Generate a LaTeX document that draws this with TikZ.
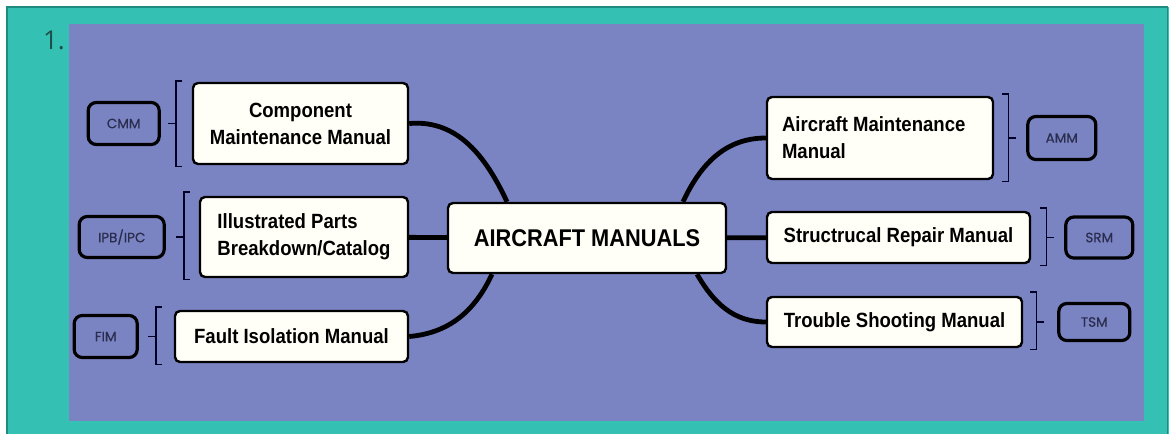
\documentclass[tikz,border=0pt]{standalone}
\usepackage{fontspec}
\setmainfont{Liberation Sans}[FakeStretch=0.9]
\newfontfamily\tagfont{Poppins}[FakeBold=0.6]
\newfontfamily\numfont{Open Sans}
\usetikzlibrary{positioning, calc}

\definecolor{frameteal}{HTML}{35C0B4}
\definecolor{frameedge}{HTML}{1F8A80}
\definecolor{boardblue}{HTML}{7B84C3}
\definecolor{tagink}{HTML}{2B2D4E}
\definecolor{numink}{HTML}{1F4F4A}

\begin{document}
\begin{tikzpicture}[
  x=1pt, y=1pt,
  box/.style  = {draw, fill=white!97!yellow, line width=2.4pt, rounded corners=5pt,
                 inner sep=0pt, font=\bfseries\fontsize{20.6}{27}\selectfont},
  tag/.style  = {draw, line width=3.2pt, rounded corners=8pt, inner sep=0pt,
                 font=\tagfont\fontsize{13.5}{15}\selectfont, text=tagink},
  brk/.style  = {line width=1.4pt, black!85!blue},
  link/.style = {line width=4.8pt},
]
  \useasboundingbox (0,0) rectangle (1169,-434);
  \fill[white] (0,0) rectangle (1169,-434);
  \fill[frameteal] (7,-7) rectangle (1169,-434);
  \draw[frameedge, line width=1.6pt] (7,-434) |- (1167.5,-7) -- (1167.5,-434);
  \fill[boardblue] (69,-24) rectangle (1144,-421);
  \node[font=\numfont\fontsize{26}{28}\selectfont, text=numink, inner sep=0pt,
        anchor=base east] (num) at (65,-49) {1.};

  % manuals
  \node[box, minimum width=278pt, minimum height=70pt,
        font=\bfseries\fontsize{24.2}{28}\selectfont] (mcen) at (587,-238) {AIRCRAFT MANUALS};
  \node[box, minimum width=215pt, minimum height=81pt, align=center] (mcmp) at (300.5,-123.5) {Component\\Maintenance Manual};
  \node[box, minimum width=208pt, minimum height=80pt, align=left]   (mipb) at (304,-237)     {Illustrated Parts\\Breakdown/Catalog};
  \node[box, minimum width=233pt, minimum height=51pt]               (mfim) at (291.5,-336.5) {Fault Isolation Manual};
  \node[box, minimum width=226pt, minimum height=82pt, align=flush left, text width=196pt] (mamm) at (880,-138) {Aircraft Maintenance\\Manual};
  \node[box, minimum width=263pt, minimum height=51pt]               (msrm) at (898.5,-237.5) {Structrucal Repair Manual};
  \node[box, minimum width=255pt, minimum height=50pt]               (mtsm) at (894.5,-322)   {Trouble Shooting Manual};

  % abbreviations
  \node[tag, minimum width=71pt, minimum height=42pt, left=31pt of mcmp]  (acmm) {CMM};
  \node[tag, minimum width=85pt, minimum height=41pt, left=33pt of mipb]  (aipb) {IPB/IPC};
  \node[tag, minimum width=63pt, minimum height=42pt, left=35pt of mfim]  (afim) {FIM};
  \node[tag, minimum width=68pt, minimum height=43pt, right=32pt of mamm] (aamm) {AMM};
  \node[tag, minimum width=67pt, minimum height=41pt, right=33pt of msrm] (asrm) {SRM};
  \node[tag, minimum width=71pt, minimum height=37pt, right=34pt of mtsm] (atsm) {TSM};

  % brackets
  \coordinate (bcmp) at ($(mcmp.west)+(-16,0)$);
  \coordinate (bipb) at ($(mipb.west)+(-15,0)$);
  \coordinate (bfim) at ($(mfim.west)+(-18,0)$);
  \coordinate (bamm) at ($(mamm.east)+(14,0)$);
  \coordinate (bsrm) at ($(msrm.east)+(15,0)$);
  \coordinate (btsm) at ($(mtsm.east)+(13,0)$);
  \draw[brk] ($(mcmp.north west)+(-10,1)$) -| (bcmp) |- ($(mcmp.south west)+(-10,-1)$);
  \draw[brk] ($(mipb.north west)+(-9,4)$)  -| (bipb) |- ($(mipb.south west)+(-9,-1)$);
  \draw[brk] ($(mfim.north west)+(-12,3)$) -| (bfim) |- ($(mfim.south west)+(-12,-1)$);
  \draw[brk] ($(mamm.north east)+(8,2)$)   -| (bamm) |- ($(mamm.south east)+(8,-1)$);
  \draw[brk] ($(msrm.north east)+(9,3)$)   -| (bsrm) |- ($(msrm.south east)+(9,-1)$);
  \draw[brk] ($(mtsm.north east)+(7,4)$)   -| (btsm) |- ($(mtsm.south east)+(7,-1)$);
  \draw[brk] (bcmp) -- ++(-8,0);
  \draw[brk] (bipb) -- ++(-8,0);
  \draw[brk] (bfim) -- ++(-8,0);
  \draw[brk] (bamm) -- ++(8,0);
  \draw[brk] (bsrm) -- ++(8,0);
  \draw[brk] (btsm) -- ++(8,0);

  % links to the centre
  \draw[link] (mcmp.east) to[out=5, in=115]   ($(mcen.north)+(-80,0)$);
  \draw[link] (mipb) -- (mcen);
  \draw[link] (mfim.east) to[out=5, in=-115]  ($(mcen.south)+(-95,0)$);
  \draw[link] (mamm.west) to[out=180, in=65]  ($(mcen.north)+(96,0)$);
  \draw[link] (msrm) -- (mcen);
  \draw[link] (mtsm.west) to[out=180, in=-60] ($(mcen.south)+(110,0)$);
\end{tikzpicture}
\end{document}
